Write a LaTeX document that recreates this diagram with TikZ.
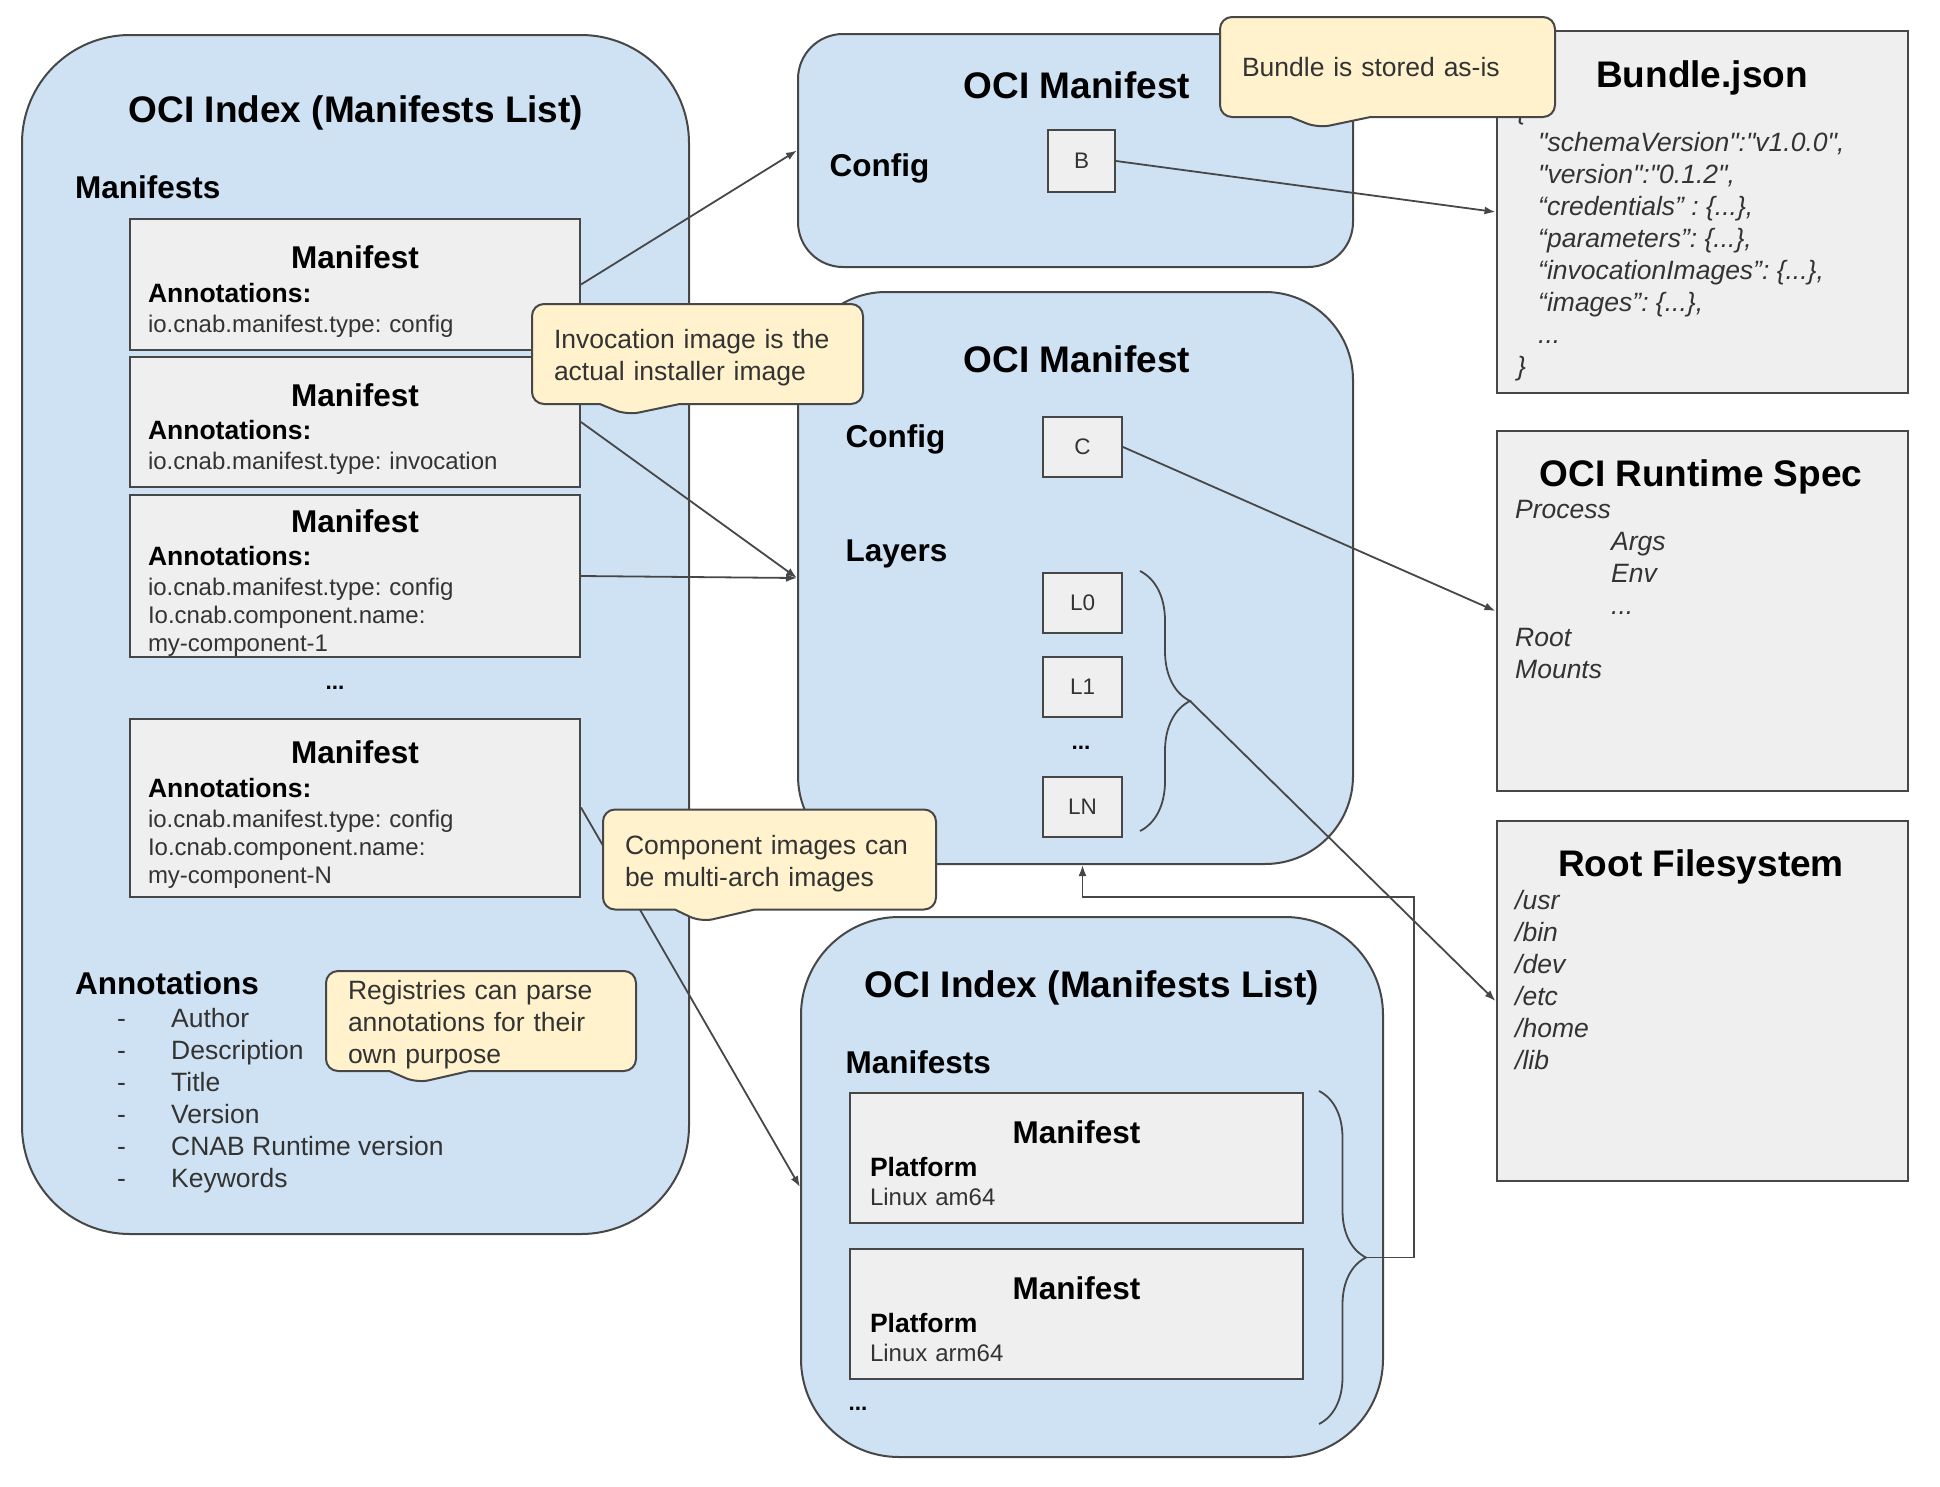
\documentclass[tikz,border=0pt]{standalone}
\usepackage{fontspec}
\setmainfont{Liberation Sans}[Ligatures=TeXOff]
\usetikzlibrary{arrows.meta,shapes.callouts,decorations.pathreplacing}
\setlength{\parindent}{0pt}
\frenchspacing

\definecolor{ociblue}{HTML}{CFE2F3}
\definecolor{ocigray}{HTML}{EFEFEF}
\definecolor{ocinote}{HTML}{FFF2CC}
\definecolor{ociedge}{HTML}{474747}
\definecolor{ocitext}{HTML}{333333}

\newcommand{\fsTitle}{\fontsize{37}{44}\selectfont\bfseries}
\newcommand{\fsHead}{\fontsize{31.5}{38}\selectfont\bfseries}
\newcommand{\fsText}{\fontsize{26.5}{32}\selectfont}
\newcommand{\fsSmall}{\fontsize{24}{28}\selectfont}
\newcommand{\fsTiny}{\fontsize{22.5}{27}\selectfont}
\newcommand{\mfhead}{\hfill{\fsHead\color{black}Manifest}\hfill\null}
\newcommand{\mfsub}[1]{{\fontsize{26.5}{28}\selectfont\bfseries\color{black}#1}}

\tikzset{
  container/.style={draw=ociedge, line width=2pt, fill=ociblue, rounded corners=#1},
  graybox/.style={draw=ociedge, line width=2pt, fill=ocigray, inner sep=0pt},
  mfbox/.style={graybox, text width=414pt, inner xsep=18pt, text height=37pt, align=left, font=\fsSmall, text=ocitext},
  letterbox/.style={graybox, font=\fsTiny, text=ocitext},
  specbox/.style={graybox, minimum width=411pt, minimum height=360pt},
  note/.style={rectangle callout, draw=ociedge, line width=2pt, fill=ocinote, rounded corners=12pt, callout pointer width=80pt, inner xsep=22pt, inner ysep=0pt, minimum height=100pt, align=left, font=\fsText, text=ocitext},
  ociTitle/.style={font=\fsTitle, anchor=base},
  heading/.style={font=\fsHead, anchor=base west, inner sep=0pt},
  listing/.style={font=\fsText\itshape, text=ocitext, align=left, anchor=north west, inner sep=0pt},
  ellip/.style={font=\fsTiny\bfseries},
  link/.style={draw=ociedge, line width=1.8pt, -{Latex[length=11pt,width=8pt]}},
  layerbrace/.style={draw=ociedge, line width=1.8pt, decorate, decoration={brace, amplitude=#1}}
}

\begin{document}
\begin{tikzpicture}[x=1pt, y=-1pt]
\useasboundingbox (0,0) rectangle (1940,1486);

% outer containers
\node[container=108pt, minimum width=667pt, minimum height=1199pt] (idxA) at (355.5,634.5) {};
\node[container=45pt, minimum width=555pt, minimum height=233pt] (manB) at (1075.5,150.5) {};
\node[container=88pt, minimum width=555pt, minimum height=572pt] (manC) at (1075.5,578) {};
\node[container=98pt, minimum width=582pt, minimum height=540pt] (idxD) at (1092,1187) {};

% index with the bundle manifests
\node[ociTitle] (tA) at (356,122) {OCI Index (Manifests List)};
\node[heading] (hA) at (75,198) {Manifests};
\node[mfbox, minimum height=131pt] (m1) at (355,284.5) {\mfhead\\[5.5pt] \mfsub{Annotations:}\\[2pt] io.cnab.manifest.type: config};
\node[mfbox, minimum height=130pt] (m2) at (355,422) {\mfhead\\[5.5pt] \mfsub{Annotations:}\\[2pt] io.cnab.manifest.type: invocation};
\node[mfbox, minimum height=162pt] (m3) at (355,576) {\mfhead\\[5.5pt] \mfsub{Annotations:}\\[2pt] io.cnab.manifest.type: config\\ Io.cnab.component.name:\\ my-component-1};
\node[ellip] (dA) at (335,688) {...};
\node[mfbox, minimum height=178pt] (m4) at (355,807.5) {\mfhead\\[5.5pt] \mfsub{Annotations:}\\[2pt] io.cnab.manifest.type: config\\ Io.cnab.component.name:\\ my-component-N};
\node[heading] (hA2) at (75,994) {Annotations};
\node[anchor=north west, inner sep=0pt, align=left, font=\fsText, text=ocitext] (annA) at (117,1008)
  {\makebox[54pt][l]{-}Author\\ \makebox[54pt][l]{-}Description\\ \makebox[54pt][l]{-}Title\\
   \makebox[54pt][l]{-}Version\\ \makebox[54pt][l]{-}CNAB Runtime version\\ \makebox[54pt][l]{-}Keywords};

% bundle manifest
\node[ociTitle] (tB) at (1077,98.5) {OCI Manifest};
\node[heading] (hB) at (829.5,176) {Config};
\node[letterbox, minimum width=67pt, minimum height=62pt] (cfgB) at (1081.5,161) {B};

% invocation image manifest
\node[ociTitle] (tC) at (1077,372) {OCI Manifest};
\node[heading] (hC1) at (845.5,447) {Config};
\node[heading] (hC2) at (845.5,561) {Layers};
\node[letterbox, minimum width=79pt, minimum height=60pt] (cfgC) at (1082.5,447) {C};
\node[letterbox, minimum width=79pt, minimum height=60pt] (lay0) at (1082.5,603) {L0};
\node[letterbox, minimum width=79pt, minimum height=60pt] (lay1) at (1082.5,687) {L1};
\node[ellip] (dC) at (1081,748) {...};
\node[letterbox, minimum width=79pt, minimum height=60pt] (layN) at (1082.5,807) {LN};
\draw[layerbrace=50pt] (1140,571) -- (1140,831);
\coordinate (ltip) at (1190,701);

% multi-arch index
\node[ociTitle] (tD) at (1092,997) {OCI Index (Manifests List)};
\node[heading] (hD) at (845.5,1073) {Manifests};
\node[mfbox, text width=413pt, inner xsep=20pt, text height=33pt, minimum height=130pt] (pa) at (1076.5,1158) {\mfhead\\[5.5pt] \mfsub{Platform}\\[1pt] Linux am64};
\node[mfbox, text width=413pt, inner xsep=20pt, text height=33pt, minimum height=130pt] (pb) at (1076.5,1314) {\mfhead\\[5.5pt] \mfsub{Platform}\\[1pt] Linux arm64};
\node[ellip] (dD) at (858,1409) {...};
\draw[layerbrace=47pt] (1319,1091) -- (1319,1424);
\coordinate (btip) at (1366,1257.5);
\coordinate (bend) at (1414,897);

% documents on the right
\node[specbox, minimum height=362pt] (bundle) at (1702,212) {};
\node[ociTitle] (tE) at (1702,87) {Bundle.json};
\node[listing] (lE) at (1517,100)
  {\{\\ \hspace*{21pt}"schemaVersion":"v1.0.0",\\ \hspace*{21pt}"version":"0.1.2",\\
   \hspace*{21pt}“credentials” : \{...\},\\ \hspace*{21pt}“parameters”: \{...\},\\
   \hspace*{21pt}“invocationImages”: \{...\},\\ \hspace*{21pt}“images”: \{...\},\\
   \hspace*{21pt}...\\ \}};
\node[specbox] (runtime) at (1702,611) {};
\node[ociTitle] (tF) at (1701,486) {OCI Runtime Spec};
\node[listing] (lF) at (1515,500)
  {Process\\ \hspace*{96pt}Args\\ \hspace*{96pt}Env\\ \hspace*{96pt}...\\ Root\\ Mounts};
\node[specbox] (rootfs) at (1702,1001) {};
\node[ociTitle] (tG) at (1701,876) {Root Filesystem};
\node[listing] (lG) at (1515,890) {/usr\\ /bin\\ /dev\\ /etc\\ /home\\ /lib};

% connectors
\draw[link] (m1.east) -- (manB.west);
\draw[link] (m2.east) -- (manC.west);
\draw[link] (m3.east) -- (manC.west);
\draw[link] (m4.east) -- (idxD.west);
\draw[link] (cfgB.east) -- (bundle.west);
\draw[link] (cfgC.east) -- (runtime.west);
\draw[link] (ltip) -- (rootfs.west);
\draw[link] (btip) -| (bend) -| (manC.south -| lay0);

% notes
\node[note, text width=291pt, callout absolute pointer={(1318,128)}] (nB) at (1387.5,67) {Bundle is stored as-is};
\node[note, text width=287pt, text height=26pt, callout absolute pointer={(627,415)}] (nI) at (697.5,354) {Invocation image is the\\actual installer image};
\node[note, text width=289pt, text height=27pt, callout absolute pointer={(701,922)}] (nC) at (769.5,859.5) {Component images can\\be multi-arch images};
\node[note, text width=266pt, text height=27pt, callout absolute pointer={(417,1083)}] (nR) at (481,1021) {Registries can parse\\annotations for their\\own purpose};
\end{tikzpicture}
\end{document}
